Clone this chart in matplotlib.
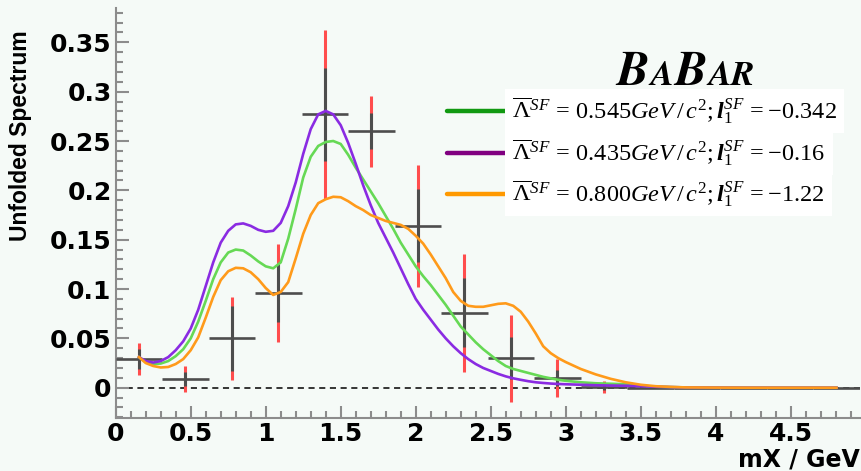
import matplotlib
matplotlib.use("Agg")
import matplotlib.pyplot as plt
import numpy as np
from matplotlib.lines import Line2D
from matplotlib.offsetbox import TextArea, HPacker, AnnotationBbox
from matplotlib.ticker import MultipleLocator, FuncFormatter

# Unfolded mX spectrum: 16 bins of 0.31 GeV
bin_centers = [0.155, 0.465, 0.775, 1.085, 1.395, 1.705, 2.015, 2.325,
               2.635, 2.945, 3.255, 3.565, 3.875, 4.185, 4.495, 4.805]
bin_half_width = 0.155
spectrum = [0.029, 0.009, 0.050, 0.096, 0.277, 0.260, 0.164, 0.076,
            0.030, 0.010, 0.001, 0.0, 0.0, 0.0, 0.0, 0.0]
err_stat = [0.010, 0.007, 0.033, 0.029, 0.047, 0.0185, 0.037, 0.035,
            0.021, 0.008, 0.003, 0.0, 0.0, 0.0, 0.0, 0.0]
err_total = [0.016, 0.0135, 0.042, 0.050, 0.086, 0.036, 0.062, 0.060,
             0.044, 0.019, 0.006, 0.0, 0.0, 0.0, 0.0, 0.0]

# Shape-function predictions sampled along mX
mx_curve = [0.155, 0.2, 0.25, 0.3, 0.35, 0.4, 0.45, 0.5, 0.55, 0.6, 0.65,
            0.7, 0.75, 0.8, 0.85, 0.9, 0.95, 1.0, 1.05, 1.1, 1.15, 1.2,
            1.25, 1.3, 1.35, 1.4, 1.45, 1.5, 1.55, 1.6, 1.65, 1.7, 1.75,
            1.8, 1.85, 1.9, 1.95, 2.0, 2.05, 2.1, 2.15, 2.2, 2.25, 2.3,
            2.35, 2.4, 2.45, 2.5, 2.55, 2.6, 2.65, 2.7, 2.75, 2.8, 2.85,
            2.9, 2.95, 3.0, 3.1, 3.2, 3.3, 3.4, 3.5, 3.6, 3.7, 3.8, 4.0,
            4.2, 4.805]
sf_0545 = [0.031, 0.026, 0.024, 0.0245, 0.027, 0.032, 0.039, 0.050, 0.067,
           0.088, 0.110, 0.127, 0.137, 0.140, 0.139, 0.134, 0.128, 0.123,
           0.121, 0.127, 0.151, 0.181, 0.213, 0.234, 0.245, 0.249, 0.250,
           0.247, 0.236, 0.223, 0.211, 0.199, 0.187, 0.174, 0.161, 0.147,
           0.135, 0.123, 0.113, 0.104, 0.094, 0.084, 0.073, 0.062, 0.054,
           0.046, 0.039, 0.033, 0.027, 0.022, 0.019, 0.017, 0.015, 0.013,
           0.011, 0.0095, 0.008, 0.007, 0.0055, 0.0045, 0.004, 0.0035,
           0.002, 0.001, 0.0006, 0.0003, 0.0001, 0.0, 0.0]
sf_0435 = [0.031, 0.027, 0.0255, 0.027, 0.031, 0.038, 0.047, 0.060, 0.079,
           0.103, 0.127, 0.147, 0.159, 0.1655, 0.1665, 0.164, 0.160, 0.158,
           0.159, 0.167, 0.184, 0.208, 0.237, 0.262, 0.277, 0.2805, 0.277,
           0.266, 0.248, 0.227, 0.205, 0.185, 0.167, 0.152, 0.137, 0.121,
           0.105, 0.090, 0.079, 0.069, 0.059, 0.050, 0.042, 0.035, 0.029,
           0.024, 0.020, 0.017, 0.014, 0.0115, 0.0095, 0.008, 0.0066,
           0.0055, 0.0048, 0.0042, 0.0038, 0.0035, 0.003, 0.0025, 0.0022,
           0.002, 0.0015, 0.001, 0.0006, 0.0003, 0.0001, 0.0, 0.0]
sf_0800 = [0.031, 0.025, 0.022, 0.0205, 0.021, 0.024, 0.029, 0.038, 0.051,
           0.071, 0.092, 0.109, 0.118, 0.1215, 0.121, 0.117, 0.110, 0.101,
           0.094, 0.097, 0.107, 0.131, 0.156, 0.175, 0.187, 0.191, 0.1935,
           0.193, 0.189, 0.184, 0.180, 0.175, 0.172, 0.169, 0.167, 0.165,
           0.161, 0.154, 0.146, 0.135, 0.123, 0.111, 0.097, 0.088, 0.083,
           0.082, 0.082, 0.0835, 0.085, 0.0855, 0.083, 0.077, 0.067, 0.055,
           0.042, 0.035, 0.030, 0.026, 0.019, 0.0135, 0.009, 0.0055, 0.003,
           0.0015, 0.0008, 0.0003, 0.0001, 0.0, 0.0]

legend_labels = [
    r"$\overline{\Lambda}^{SF}\,=\,0.545GeV\,/\,c^{2};\mathbfit{l}_{1}^{SF}\,=\!-\!0.342$",
    r"$\overline{\Lambda}^{SF}\,=\,0.435GeV\,/\,c^{2};\mathbfit{l}_{1}^{SF}\,=\!-\!0.16$",
    r"$\overline{\Lambda}^{SF}\,=\,0.800GeV\,/\,c^{2};\mathbfit{l}_{1}^{SF}\,=\!-\!1.22$",
]
curve_colors = ["#66d955", "#8a2be2", "#ff9a1a"]
legend_colors = ["#119911", "#800080", "#ff9900"]

bg = "#f5faf7"
plt.rcParams["mathtext.fontset"] = "custom"
plt.rcParams["mathtext.rm"] = "Liberation Serif"
plt.rcParams["mathtext.it"] = "Liberation Serif:italic"
plt.rcParams["mathtext.bf"] = "Liberation Serif:bold"
plt.rcParams["mathtext.bfit"] = "Liberation Serif:bold:italic"

fig = plt.figure(figsize=(8.61, 4.71), dpi=100, facecolor=bg)
ax = fig.add_axes([0.1344, 0.1119, 0.8641, 0.8705], facecolor=bg)

x = np.array(bin_centers)
y = np.array(spectrum)
stat = np.array(err_stat)
tot = np.array(err_total)

# zero reference
ax.axhline(0, color="black", lw=1.1, ls=(0, (4, 3)), zorder=1)

# data crosses: red total error, dark stat error, bin width
ax.vlines(x, y - tot, y + tot, color="#ff4d4d", lw=2.2, zorder=2)
ax.vlines(x, y - stat, y + stat, color="#4d4d4d", lw=2.2, zorder=3)
ax.hlines(y, x - bin_half_width, x + bin_half_width, color="#4d4d4d",
          lw=1.9, zorder=3)

# curves
for vals, c in zip([sf_0545, sf_0435, sf_0800], curve_colors):
    ax.plot(mx_curve, vals, color=c, lw=1.9, zorder=4,
            solid_joinstyle="round")

ax.set_xlim(0, 4.96)
ax.set_ylim(-0.031, 0.3845)

for side in ["top", "right"]:
    ax.spines[side].set_visible(False)
for side in ["left", "bottom"]:
    ax.spines[side].set_color("#8c8c8c")
    ax.spines[side].set_linewidth(1.5)

ax.xaxis.set_major_locator(MultipleLocator(0.5))
ax.xaxis.set_minor_locator(MultipleLocator(0.1))
ax.yaxis.set_major_locator(MultipleLocator(0.05))
ax.yaxis.set_minor_locator(MultipleLocator(0.01))
fmt = FuncFormatter(lambda v, p: "%g" % round(v, 3))
ax.xaxis.set_major_formatter(fmt)
ax.yaxis.set_major_formatter(fmt)
ax.tick_params(which="both", direction="in", color="#8c8c8c", width=1.5)
ax.tick_params(which="major", length=9)
ax.tick_params(which="minor", length=5)
ax.tick_params(axis="y", which="major", pad=3)
ax.tick_params(axis="x", which="major", pad=3)
for lab in ax.get_xticklabels() + ax.get_yticklabels():
    lab.set_fontweight("bold")
    lab.set_fontsize(18)
    lab.set_fontfamily("DejaVu Sans")

fig.text(0.024, 0.936, "Unfolded Spectrum", rotation=90, ha="center",
         va="top", fontsize=16.5, fontweight="bold", family="Liberation Sans")
fig.text(0.999, 0.01, "mX / GeV", ha="right", va="baseline",
         fontsize=17, fontweight="bold", family="DejaVu Sans")

# BaBar logo in small caps
big = dict(family="STIXGeneral", weight="bold", style="italic", size=35)
small = dict(family="STIXGeneral", weight="bold", style="italic", size=25)
logo = HPacker(children=[TextArea("B", textprops=big),
                         TextArea("A", textprops=small),
                         TextArea("B", textprops=big),
                         TextArea("AR", textprops=small)],
               align="baseline", pad=0, sep=1)
ab = AnnotationBbox(logo, (0.796, 0.845), xycoords="figure fraction",
                    frameon=False, box_alignment=(0.5, 0.5), zorder=2)
fig.add_artist(ab)

# legend rows
row_y = [0.764, 0.675, 0.588]
for lab, c, yy in zip(legend_labels, legend_colors, row_y):
    fig.add_artist(Line2D([0.519, 0.592], [yy, yy], color=c, lw=3.2,
                          solid_capstyle="round", transform=fig.transFigure))
    t = fig.text(0.595, yy, lab, ha="left", va="center", fontsize=17.5,
                 bbox=dict(facecolor="white", edgecolor="none", pad=5))
    t.set_zorder(5)

fig.savefig("out.png", dpi=100, facecolor=bg)
